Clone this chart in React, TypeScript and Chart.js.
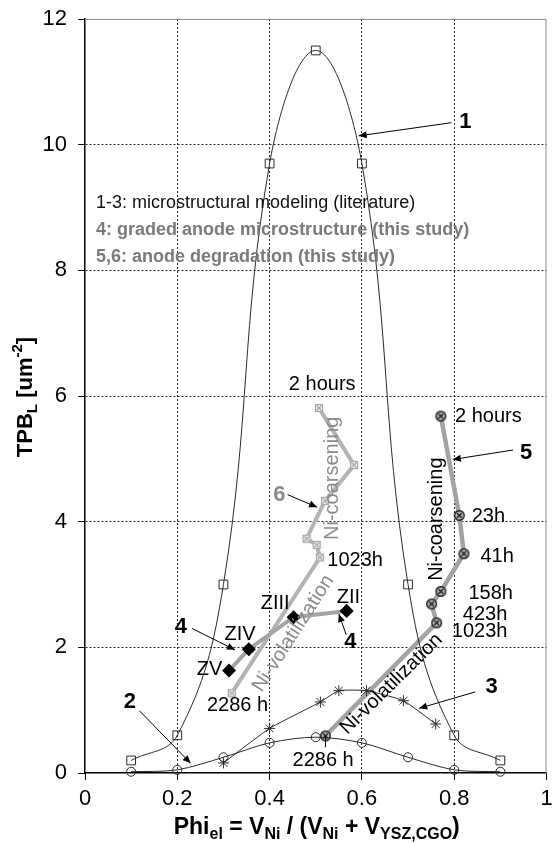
import { useEffect, useRef } from "react";
import { Chart, registerables } from "chart.js";

Chart.register(...registerables);

const FONT = "'Liberation Sans', Arial, Helvetica, sans-serif";

// Axis ticks
const xTicks = [0, 0.2, 0.4, 0.6, 0.8, 1];
const yTicks = [0, 2, 4, 6, 8, 10, 12];

// 1: microstructural modeling (literature)
const phi1 = [0.1, 0.2, 0.3, 0.4, 0.5, 0.6, 0.7, 0.8, 0.9];
const tpb1 = [0.2, 0.6, 3.0, 9.7, 11.5, 9.7, 3.0, 0.6, 0.2];

// 2: microstructural modeling (literature)
const phi2 = [0.1, 0.2, 0.3, 0.4, 0.5, 0.6, 0.7, 0.8, 0.9];
const tpb2 = [0.02, 0.05, 0.25, 0.48, 0.57, 0.48, 0.25, 0.05, 0.02];

// 3: microstructural modeling (literature)
const phi3 = [0.3, 0.4, 0.51, 0.55, 0.61, 0.69, 0.76];
const tpb3 = [0.16, 0.71, 1.13, 1.31, 1.31, 1.15, 0.78];

// 4: graded anode, zones ZV..ZII
const zones4 = ["ZV", "ZIV", "ZIII", "ZII"];
const phi4 = [0.312, 0.355, 0.452, 0.567];
const tpb4 = [1.63, 1.97, 2.48, 2.58];

// 5: anode degradation over time
const hours5 = ["2 hours", "23h", "41h", "158h", "423h", "1023h", "2286 h"];
const phi5 = [0.771, 0.811, 0.821, 0.771, 0.751, 0.762, 0.521];
const tpb5 = [5.68, 4.1, 3.49, 2.89, 2.69, 2.39, 0.59];

// 6: anode degradation over time
const hours6 = ["2 hours", "1023h", "2286 h"];
const phi6 = [0.507, 0.583, 0.52, 0.48, 0.502, 0.509, 0.318];
const tpb6 = [5.81, 4.9, 4.33, 3.73, 3.63, 3.43, 1.27];

const legendLines = [
  "1-3: microstructural modeling (literature)",
  "4: graded anode microstructure (this study)",
  "5,6: anode degradation (this study)",
];

const pts = (xs: number[], ys: number[]) => xs.map((x, i) => ({ x, y: ys[i] }));

type Note = {
  t: string;
  x: number;
  y: number;
  size?: number;
  bold?: boolean;
  color?: string;
  align?: CanvasTextAlign;
  rot?: number;
};

const GREY_TXT = "#8a8a8a";

const notes: Note[] = [
  { t: "1", x: 0.824, y: 10.36, size: 22, bold: true },
  { t: legendLines[0], x: 0.024, y: 9.07, size: 18, align: "left", color: "#111" },
  { t: legendLines[1], x: 0.024, y: 8.64, size: 18, bold: true, align: "left", color: "#7a7a7a" },
  { t: legendLines[2], x: 0.024, y: 8.21, size: 18, bold: true, align: "left", color: "#7a7a7a" },
  { t: hours6[0], x: 0.514, y: 6.19 },
  { t: "Ni-coarsening", x: 0.537, y: 4.69, rot: -90, color: GREY_TXT },
  { t: "6", x: 0.421, y: 4.42, size: 22, bold: true, color: GREY_TXT },
  { t: hours6[1], x: 0.525, y: 3.38, align: "left" },
  { t: zones4[2], x: 0.412, y: 2.7 },
  { t: zones4[3], x: 0.571, y: 2.8 },
  { t: zones4[1], x: 0.336, y: 2.21 },
  { t: zones4[0], x: 0.27, y: 1.64 },
  { t: "4", x: 0.575, y: 2.09, size: 22, bold: true },
  { t: "4", x: 0.2075, y: 2.33, size: 22, bold: true },
  { t: "Ni-volatilization", x: 0.4516, y: 2.22, rot: -57.3, color: GREY_TXT },
  { t: "Ni-volatilization", x: 0.664, y: 1.416, rot: -44.5 },
  { t: hours6[2], x: 0.3305, y: 1.08 },
  { t: hours5[6], x: 0.516, y: 0.207 },
  { t: hours5[0], x: 0.874, y: 5.67 },
  { t: "5", x: 0.956, y: 5.1, size: 22, bold: true },
  { t: "Ni-coarsening", x: 0.7615, y: 4.04, rot: -90 },
  { t: hours5[1], x: 0.874, y: 4.08 },
  { t: hours5[2], x: 0.893, y: 3.45 },
  { t: hours5[3], x: 0.879, y: 2.86 },
  { t: hours5[4], x: 0.867, y: 2.53 },
  { t: hours5[5], x: 0.855, y: 2.25 },
  { t: "2", x: 0.097, y: 1.13, size: 22, bold: true },
  { t: "3", x: 0.881, y: 1.37, size: 22, bold: true },
];

// pointer arrows [x1, y1, x2, y2, head]
const arrows: [number, number, number, number, boolean][] = [
  [0.794, 10.35, 0.593, 10.14, true],
  [0.439, 4.43, 0.503, 4.23, true],
  [0.566, 2.2, 0.55, 2.53, true],
  [0.232, 2.3, 0.325, 1.96, true],
  [0.9275, 5.14, 0.797, 4.99, true],
  [0.118, 0.99, 0.229, 0.154, true],
  [0.8455, 1.29, 0.724, 1.03, true],
  [0.521, 0.59, 0.521, 0.41, false],
];

type Part = [string, number];
const xTitle: Part[] = [
  ["Phi", 0], ["el", 1], [" = V", 0], ["Ni", 1], [" / (V", 0], ["Ni", 1], [" + V", 0], ["YSZ,CGO", 1], [")", 0],
];
const yTitle: Part[] = [["TPB", 0], ["L", 1], [" [um", 0], ["-2", 2], ["]", 0]];

function drawRich(ctx: CanvasRenderingContext2D, parts: Part[], cx: number, cy: number, size: number, rot: number) {
  const small = Math.round(size * 0.68);
  const fontOf = (m: number) => `bold ${m ? small : size}px ${FONT}`;
  let total = 0;
  const widths = parts.map(([s, m]) => {
    ctx.font = fontOf(m);
    const w = ctx.measureText(s).width;
    total += w;
    return w;
  });
  ctx.save();
  ctx.translate(cx, cy);
  ctx.rotate(rot);
  ctx.fillStyle = "#000";
  ctx.textBaseline = "middle";
  ctx.textAlign = "left";
  let xx = -total / 2;
  parts.forEach(([s, m], i) => {
    ctx.font = fontOf(m);
    const dy = m === 1 ? size * 0.3 : m === 2 ? -size * 0.38 : 0;
    ctx.fillText(s, xx, dy);
    xx += widths[i];
  });
  ctx.restore();
}

const framePlugin = {
  id: "frame",
  beforeDatasetsDraw(chart: any) {
    const { ctx, chartArea: a } = chart;
    ctx.save();
    ctx.strokeStyle = "#8c8c8c";
    ctx.lineWidth = 1;
    ctx.beginPath();
    ctx.moveTo(a.left, a.top + 0.5);
    ctx.lineTo(a.right - 0.5, a.top + 0.5);
    ctx.lineTo(a.right - 0.5, a.bottom);
    ctx.stroke();
    ctx.restore();
  },
};

const notesPlugin = {
  id: "notes",
  afterDatasetsDraw(chart: any) {
    const { ctx } = chart;
    const sx = chart.scales.x;
    const sy = chart.scales.y;
    const px = (v: number) => sx.getPixelForValue(v);
    const py = (v: number) => sy.getPixelForValue(v);
    ctx.save();
    ctx.strokeStyle = "#000";
    ctx.fillStyle = "#000";
    ctx.lineWidth = 1;
    for (const [x1, y1, x2, y2, head] of arrows) {
      const a1 = px(x1), b1 = py(y1), a2 = px(x2), b2 = py(y2);
      ctx.beginPath();
      ctx.moveTo(a1, b1);
      ctx.lineTo(a2, b2);
      ctx.stroke();
      if (head) {
        const ang = Math.atan2(b2 - b1, a2 - a1);
        const L = 8, W = 3.5;
        const c = Math.cos(ang), s = Math.sin(ang);
        ctx.beginPath();
        ctx.moveTo(a2, b2);
        ctx.lineTo(a2 - L * c + W * s, b2 - L * s - W * c);
        ctx.lineTo(a2 - L * c - W * s, b2 - L * s + W * c);
        ctx.closePath();
        ctx.fill();
      }
    }
    for (const n of notes) {
      ctx.save();
      ctx.translate(px(n.x), py(n.y));
      if (n.rot) ctx.rotate((n.rot * Math.PI) / 180);
      ctx.font = `${n.bold ? "bold " : ""}${n.size ?? 20}px ${FONT}`;
      ctx.fillStyle = n.color ?? "#000";
      ctx.textAlign = n.align ?? "center";
      ctx.textBaseline = "middle";
      ctx.fillText(n.t, 0, 0);
      ctx.restore();
    }
    ctx.restore();
  },
  afterDraw(chart: any) {
    const { ctx, chartArea: a } = chart;
    drawRich(ctx, xTitle, (a.left + a.right) / 2 + 1, 828, 23, 0);
    drawRich(ctx, yTitle, 26, 397, 22, -Math.PI / 2);
  },
};

function crossCircle(): HTMLCanvasElement {
  const c = document.createElement("canvas");
  c.width = 13;
  c.height = 13;
  const g = c.getContext("2d")!;
  g.beginPath();
  g.arc(6.5, 6.5, 4.8, 0, Math.PI * 2);
  g.fillStyle = "#b5b5b5";
  g.fill();
  g.lineWidth = 1.4;
  g.strokeStyle = "#1a1a1a";
  g.stroke();
  g.beginPath();
  g.moveTo(4, 4);
  g.lineTo(9, 9);
  g.moveTo(9, 4);
  g.lineTo(4, 9);
  g.lineWidth = 1.3;
  g.stroke();
  return c;
}

function crossSquare(): HTMLCanvasElement {
  const c = document.createElement("canvas");
  c.width = 10;
  c.height = 10;
  const g = c.getContext("2d")!;
  g.fillStyle = "#f2f2f2";
  g.fillRect(1, 1, 8, 8);
  g.strokeStyle = "#a8a8a8";
  g.lineWidth = 1.2;
  g.strokeRect(1.5, 1.5, 7, 7);
  g.beginPath();
  g.moveTo(2.5, 2.5);
  g.lineTo(7.5, 7.5);
  g.moveTo(7.5, 2.5);
  g.lineTo(2.5, 7.5);
  g.stroke();
  return c;
}

export default function App() {
  const ref = useRef<HTMLCanvasElement>(null);

  useEffect(() => {
    const gridColor = (c: any) => {
      const v = c.tick ? c.tick.value : null;
      return v === 0 || v === 1 || v === 12 ? "rgba(0,0,0,0)" : "#222";
    };
    const thin = {
      showLine: true,
      borderColor: "#2a2a2a",
      borderWidth: 1,
      pointBorderColor: "#2a2a2a",
      pointBackgroundColor: "rgba(255,255,255,0)",
      pointBorderWidth: 1,
      clip: false as const,
    };
    const chart = new Chart(ref.current!, {
      type: "scatter",
      data: {
        datasets: [
          { ...thin, label: "1", data: pts(phi1, tpb1), tension: 0.4, pointStyle: "rect", pointRadius: 6.2 },
          { ...thin, label: "2", data: pts(phi2, tpb2), tension: 0.3, pointStyle: "circle", pointRadius: 4.5 },
          { ...thin, label: "3", data: pts(phi3, tpb3), tension: 0.15, pointStyle: "star", pointRadius: 5.5 },
          {
            label: "4",
            data: pts(phi4, tpb4),
            showLine: true,
            borderColor: "#a3a3a3",
            borderWidth: 4,
            pointStyle: "rectRot",
            pointRadius: 4.2,
            pointBackgroundColor: "#000",
            pointBorderColor: "#000",
            clip: false,
          },
          {
            label: "5",
            data: pts(phi5, tpb5),
            showLine: true,
            borderColor: "#a3a3a3",
            borderWidth: 4.5,
            pointStyle: crossCircle(),
            clip: false,
          },
          {
            label: "6",
            data: pts(phi6, tpb6),
            showLine: true,
            borderColor: "#b3b3b3",
            borderWidth: 4,
            pointStyle: crossSquare(),
            clip: false,
          },
        ],
      },
      options: {
        responsive: false,
        animation: false,
        devicePixelRatio: 1,
        layout: { padding: { top: 19, right: 3, left: 0, bottom: 0 } },
        plugins: { legend: { display: false }, tooltip: { enabled: false }, title: { display: false } },
        events: [],
        scales: {
          x: {
            type: "linear",
            min: 0,
            max: 1,
            afterBuildTicks: (s: any) => {
              s.ticks = xTicks.map((value) => ({ value }));
            },
            afterFit: (s: any) => {
              s.height = 70;
              s.paddingLeft = 0;
              s.paddingRight = 0;
            },
            ticks: {
              autoSkip: false,
              maxRotation: 0,
              padding: 6,
              color: "#000",
              font: { family: FONT, size: 22 },
              callback: (v: any) => String(v),
            },
            grid: { color: gridColor, tickColor: "#000", tickLength: 7, lineWidth: 1 },
            border: { display: true, color: "#000", width: 1.5, dash: [2, 2] },
          },
          y: {
            type: "linear",
            min: 0,
            max: 12,
            afterBuildTicks: (s: any) => {
              s.ticks = yTicks.map((value) => ({ value }));
            },
            afterFit: (s: any) => {
              s.width = 85;
              s.paddingTop = 0;
              s.paddingBottom = 0;
            },
            ticks: {
              autoSkip: false,
              padding: 11,
              color: "#000",
              font: { family: FONT, size: 22 },
              callback: (v: any) => String(v),
            },
            grid: { color: gridColor, tickColor: "#000", tickLength: 7, lineWidth: 1 },
            border: { display: true, color: "#000", width: 1.5, dash: [2, 2] },
          },
        },
      },
      plugins: [framePlugin, notesPlugin],
    });
    return () => chart.destroy();
  }, []);

  return (
    <div style={{ position: "absolute", left: 0, top: 0, width: 555, height: 843, background: "#fff" }}>
      <canvas ref={ref} width={555} height={843} style={{ display: "block", width: 555, height: 843 }} />
    </div>
  );
}
